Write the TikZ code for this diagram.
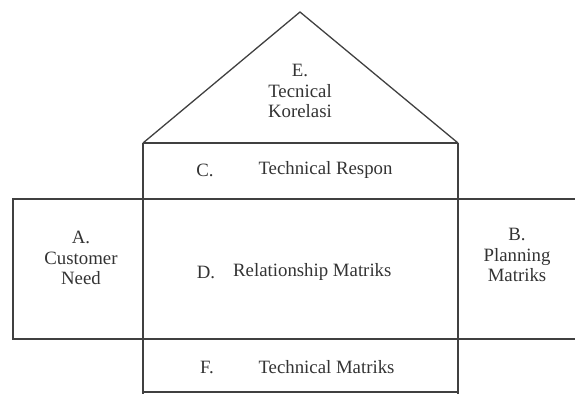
\documentclass[tikz,border=0pt]{standalone}
\usepackage{fontspec}
\setmainfont{Liberation Serif}
\tikzset{
  frame/.style={draw=black!75, line width=1.3pt},
  lbl/.style={text=black!80, font=\fontsize{18.8}{20.5}\selectfont, align=center, inner sep=0pt},
}
\begin{document}
\begin{tikzpicture}[x=1pt, y=-1pt]
\useasboundingbox (0,0) rectangle (575,394);
% corners
\coordinate (apex) at (300,12);
\coordinate (cl) at (143,143);
\coordinate (cr) at (458,143);
\coordinate (ml) at (143,199);
\coordinate (mr) at (458,199);
\coordinate (al) at (13,199);
\coordinate (ar) at (575,199);
\coordinate (bl) at (13,339);
\coordinate (br) at (575,339);
\coordinate (fl) at (143,392);
\coordinate (fr) at (458,392);
% roof
\draw[frame] (cl) -- (apex) -- (cr);
% C box top
\draw[frame] (cl) -- (cr);
% column verticals
\draw[frame] (cl) -- (143,394);
\draw[frame] (cr) -- (458,394);
% main row
\draw[frame] (ar) -- (al) -- (bl) -- (br);
% F bottom
\draw[frame] (fl) -- (fr);
% labels
\node[lbl] (E) at (300,91) {E.\\Tecnical\\Korelasi};
\node[lbl] (C) at (205,170) {C.};
\node[lbl] (Ct) at (325.5,170) {Technical Respon};
\node[lbl] (A) at (81,258) {A.\\Customer\\Need};
\node[lbl] (D) at (206,272) {D.};
\node[lbl, anchor=west] (Dt) at (233,272) {Relationship Matriks};
\node[lbl] (B) at (517,255) {B.\\Planning\\Matriks};
\node[lbl] (F) at (207,367) {F.};
\node[lbl] (Ft) at (326.5,367) {Technical Matriks};
\end{tikzpicture}
\end{document}
